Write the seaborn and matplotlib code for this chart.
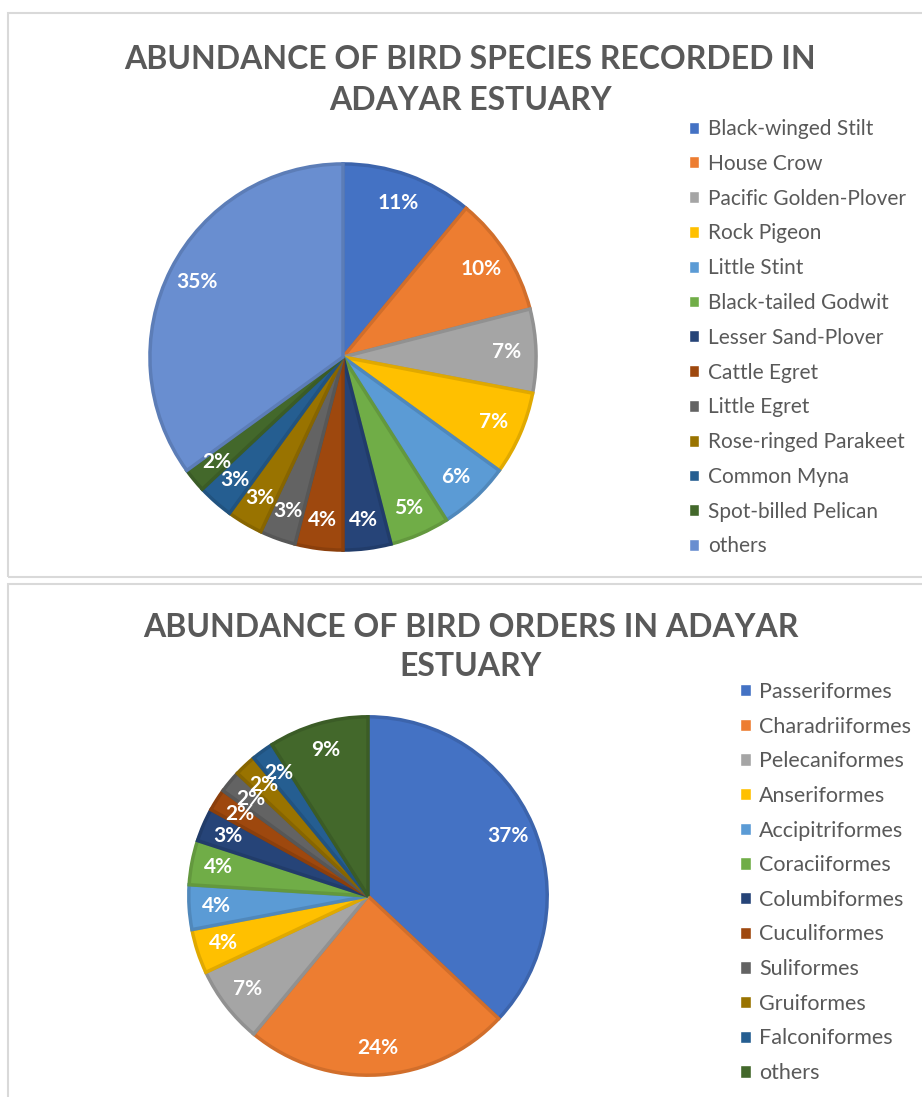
import numpy as np
import matplotlib
matplotlib.use('Agg')
import matplotlib.pyplot as plt
from matplotlib.patches import Patch, Rectangle
import matplotlib.colors as mcolors
import seaborn as sns

# ── Data ──────────────────────────────────────────────────
species = ['Black-winged Stilt', 'House Crow', 'Pacific Golden-Plover',
           'Rock Pigeon', 'Little Stint', 'Black-tailed Godwit',
           'Lesser Sand-Plover', 'Cattle Egret', 'Little Egret',
           'Rose-ringed Parakeet', 'Common Myna', 'Spot-billed Pelican',
           'others']
species_pct = [11, 10, 7, 7, 6, 5, 4, 4, 3, 3, 3, 2, 35]

orders = ['Passeriformes', 'Charadriiformes', 'Pelecaniformes',
          'Anseriformes', 'Accipitriformes', 'Coraciiformes',
          'Columbiformes', 'Cuculiformes', 'Suliformes', 'Gruiformes',
          'Falconiformes', 'others']
orders_pct = [37, 24, 7, 4, 4, 4, 3, 2, 2, 2, 2, 9]

title_top = 'ABUNDANCE OF BIRD SPECIES RECORDED IN\nADAYAR ESTUARY'
title_bot = 'ABUNDANCE OF BIRD ORDERS IN ADAYAR\nESTUARY'

# Office palette
office = ['#4472C4', '#ED7D31', '#A5A5A5', '#FFC000', '#5B9BD5', '#70AD47',
          '#264478', '#9E480E', '#636363', '#997300', '#255E91', '#43682B',
          '#698ED0']
species_colors = sns.color_palette(office[:len(species)])
orders_colors = sns.color_palette(office[:len(orders) - 1] + ['#43682B'])

# ── Style ─────────────────────────────────────────────────
sns.set_theme(style='white')
plt.rcParams['font.family'] = ['Lato', 'DejaVu Sans']
TXT = '#595959'

W, H = 922, 1097
fig = plt.figure(figsize=(W / 100, H / 100), dpi=100)
fig.patch.set_facecolor('white')


def px_axes(cx, cy, r):
    return fig.add_axes([(cx - r) / W, (H - cy - r) / H, 2 * r / W, 2 * r / H])


def darker(c, f=0.88):
    r, g, b = mcolors.to_rgb(c)
    return (r * f, g * f, b * f)


def draw_pie(ax, vals, colors):
    wedges, _, autotexts = ax.pie(
        vals, colors=colors, startangle=90, counterclock=False,
        autopct=lambda p: f'{p:.0f}%', pctdistance=0.85,
        wedgeprops=dict(linewidth=2.5),
        textprops=dict(color='white', fontsize=15, fontweight='bold'))
    for w, c in zip(wedges, colors):
        w.set_edgecolor(darker(c))
    ax.set_xlim(-1.01, 1.01)
    ax.set_ylim(-1.01, 1.01)
    ax.set_aspect('equal')
    ax.axis('off')
    return wedges


# panel borders
for (y0, y1) in [(13, 577), (584, 1110)]:
    fig.patches.append(Rectangle((8 / W, (H - y1) / H), (W + 10) / W, (y1 - y0) / H,
                                 transform=fig.transFigure, fill=False,
                                 edgecolor='#D9D9D9', linewidth=1.5))

title_kw = dict(ha='center', va='center', fontsize=23, fontweight='bold',
                color=TXT)
leg_kw = dict(loc='upper left', frameon=False, labelcolor=TXT,
              handlelength=0.5, handleheight=0.5, handletextpad=0.4,
              borderaxespad=0, borderpad=0)

# ── Top pie ───────────────────────────────────────────────
ax1 = px_axes(343, 357, 195)
draw_pie(ax1, species_pct, species_colors)
fig.text(470 / W, 1 - 80 / H, title_top, linespacing=1.52, **title_kw)
h1 = [Patch(facecolor=c) for c in species_colors]
fig.legend(h1, species, bbox_to_anchor=(689 / W, 1 - 119 / H),
           fontsize=15, labelspacing=0.71, **leg_kw)

# ── Bottom pie ────────────────────────────────────────────
ax2 = px_axes(368, 896, 181)
draw_pie(ax2, orders_pct, orders_colors)
fig.text(471 / W, 1 - 647 / H, title_bot, linespacing=1.43, **title_kw)
h2 = [Patch(facecolor=c) for c in orders_colors]
fig.legend(h2, orders, bbox_to_anchor=(740 / W, 1 - 682 / H),
           fontsize=15.5, labelspacing=0.68, **leg_kw)

fig.savefig('out.png', dpi=100)
